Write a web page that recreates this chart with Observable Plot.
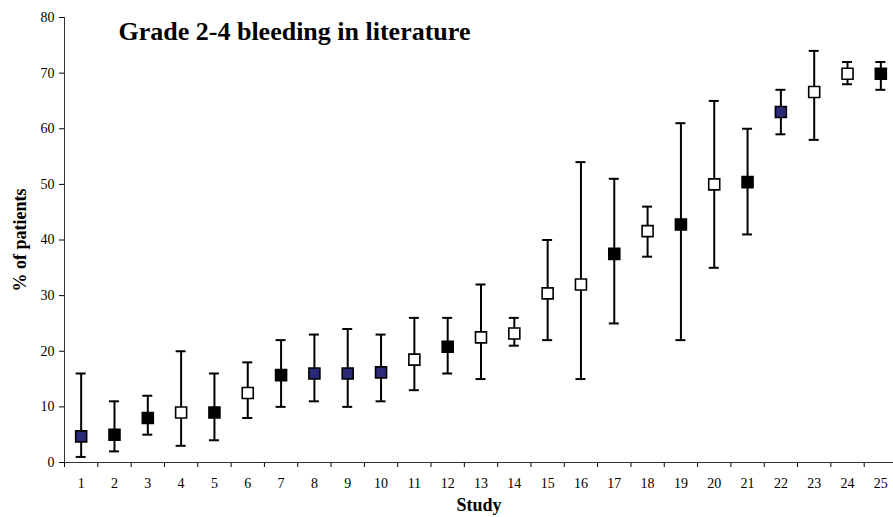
<!DOCTYPE html>
<html>
<head>
<meta charset="utf-8">
<script src="https://cdn.jsdelivr.net/npm/d3@7"></script>
<script src="https://cdn.jsdelivr.net/npm/@observablehq/plot@0.6"></script>
<style>
  html, body { margin: 0; padding: 0; background: #fff; }
  svg { display: block; }
</style>
</head>
<body>
<div id="chart"></div>
<script>
const studies = [1,2,3,4,5,6,7,8,9,10,11,12,13,14,15,16,17,18,19,20,21,22,23,24,25];
const values  = [4.7,5,8,9,9,12.5,15.7,16,16,16.2,18.5,20.8,22.5,23.2,30.4,32,37.5,41.6,42.8,50,50.4,63,66.6,69.9,69.9];
const lower   = [1,2,5,3,4,8,10,11,10,11,13,16,15,21,22,15,25,37,22,35,41,59,58,68,67];
const upper   = [16,11,12,20,16,18,22,23,24,23,26,26,32,26,40,54,51,46,61,65,60,67,74,72,72];
const groups  = ["blue","filled","filled","open","filled","open","filled","blue","blue","blue","open","filled","open","open","open","open","filled","open","filled","open","filled","blue","open","open","filled"];
const yTicks  = [0,10,20,30,40,50,60,70,80];
const titleText = "Grade 2-4 bleeding in literature";
const yLabel = "% of patients";
const xLabel = "Study";

const data = studies.map((s, i) => ({study: s, value: values[i], lo: lower[i], hi: upper[i], group: groups[i]}));
const boundaries = d3.range(0.5, 25.6, 1);
const font = "'Liberation Serif', 'Times New Roman', serif";

const chart = Plot.plot({
  width: 893,
  height: 517,
  marginLeft: 64,
  marginTop: 17,
  marginBottom: 55,
  marginRight: 0,
  style: {fontFamily: font, fontSize: "14px", color: "#000", background: "#fff"},
  x: {domain: [0.5, 25.5], range: [64, 897]},
  y: {domain: [0, 80], range: [462, 17]},
  color: {domain: ["filled", "open", "blue"], range: ["#000000", "#ffffff", "#2a2a78"]},
  marks: [
    Plot.axisY({ticks: yTicks, tickSize: 5, tickPadding: 5, label: null, fontSize: 14}),
    Plot.axisX({ticks: studies, tickSize: 0, tickPadding: 16, label: null, fontSize: 14, tickFormat: d => String(d)}),
    Plot.axisX({ticks: boundaries, tickSize: 5, label: null, tickFormat: () => ""}),
    Plot.ruleY([0], {stroke: "#333", strokeWidth: 1}),
    Plot.ruleX([0.5], {y1: 0, y2: 80, stroke: "#333", strokeWidth: 1}),
    Plot.ruleX(data, {x: "study", y1: "lo", y2: "hi", stroke: "#000", strokeWidth: 2}),
    Plot.ruleY(data, {y: "hi", x1: d => d.study - 0.15, x2: d => d.study + 0.15, stroke: "#000", strokeWidth: 2}),
    Plot.ruleY(data, {y: "lo", x1: d => d.study - 0.15, x2: d => d.study + 0.15, stroke: "#000", strokeWidth: 2}),
    Plot.dot(data, {x: "study", y: "value", symbol: "square", r: 6.2, fill: "group", stroke: "#000", strokeWidth: 1.6}),
    Plot.text([titleText], {frameAnchor: "top-left", dx: 54, dy: 14, textAnchor: "start", lineAnchor: "middle", fontSize: 26, fontWeight: "bold", fill: "#000"}),
    Plot.text([yLabel], {frameAnchor: "left", dx: -44, rotate: -90, textAnchor: "middle", fontSize: 18, fontWeight: "bold", fill: "#000"}),
    Plot.text([xLabel], {frameAnchor: "bottom", dy: 48, textAnchor: "middle", fontSize: 18, fontWeight: "bold", fill: "#000"})
  ]
});
document.getElementById("chart").appendChild(chart);
</script>
</body>
</html>
